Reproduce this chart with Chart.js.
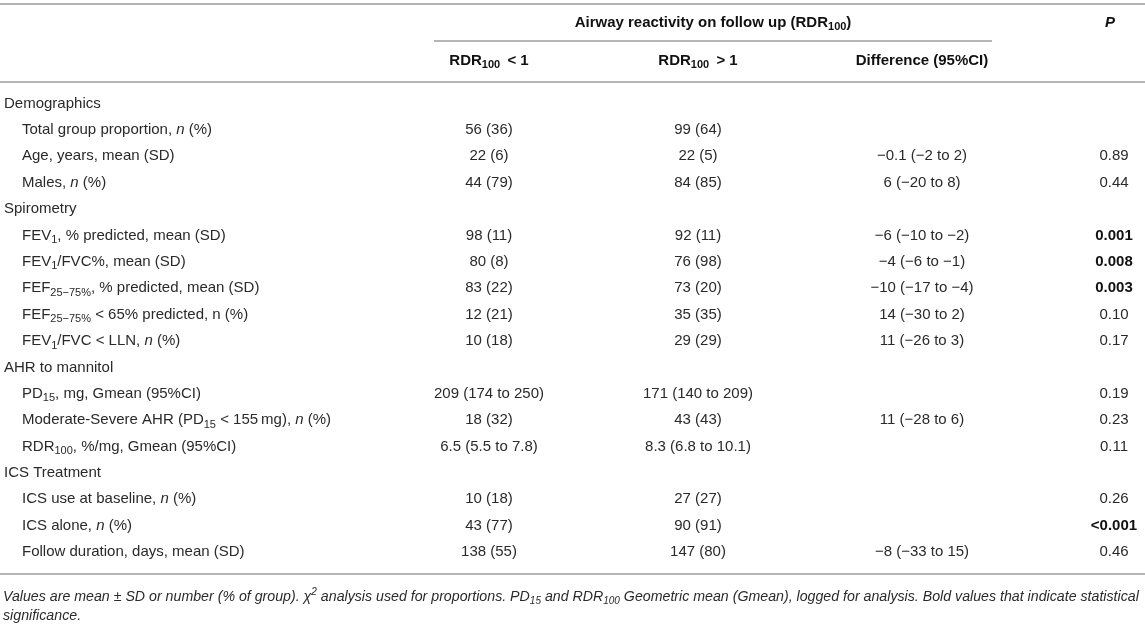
<!DOCTYPE html>
<html>
<head>
<meta charset="utf-8">
<script src="https://cdn.jsdelivr.net/npm/chart.js@4/dist/chart.umd.min.js"></script>
<style>
  html, body { margin: 0; padding: 0; background: #fff; }
  #wrap { width: 1145px; height: 626px; }
</style>
</head>
<body>
<div id="wrap"><canvas id="c" width="1145" height="626"></canvas></div>
<script>
// ---------- data ----------
const categories = [
  "Demographics",
  "Total group proportion, *n* (%)",
  "Age, years, mean (SD)",
  "Males, *n* (%)",
  "Spirometry",
  "FEV_{1}, % predicted, mean (SD)",
  "FEV_{1}/FVC%, mean (SD)",
  "FEF_{25\u221275%}, % predicted, mean (SD)",
  "FEF_{25\u221275%} < 65% predicted, n (%)",
  "FEV_{1}/FVC < LLN, *n* (%)",
  "AHR to mannitol",
  "PD_{15}, mg, Gmean (95%CI)",
  "Moderate-Severe AHR (PD_{15} < 155\u2009mg), *n* (%)",
  "RDR_{100}, %/mg, Gmean (95%CI)",
  "ICS Treatment",
  "ICS use at baseline, *n* (%)",
  "ICS alone, *n* (%)",
  "Follow duration, days, mean (SD)"
];
const sectionRows = [0, 4, 10, 14];
const groupLow = ["", "56 (36)", "22 (6)", "44 (79)", "", "98 (11)", "80 (8)", "83 (22)", "12 (21)", "10 (18)", "", "209 (174 to 250)", "18 (32)", "6.5 (5.5 to 7.8)", "", "10 (18)", "43 (77)", "138 (55)"];
const groupHigh = ["", "99 (64)", "22 (5)", "84 (85)", "", "92 (11)", "76 (98)", "73 (20)", "35 (35)", "29 (29)", "", "171 (140 to 209)", "43 (43)", "8.3 (6.8 to 10.1)", "", "27 (27)", "90 (91)", "147 (80)"];
const difference = ["", "", "\u22120.1 (\u22122 to 2)", "6 (\u221220 to 8)", "", "\u22126 (\u221210 to \u22122)", "\u22124 (\u22126 to \u22121)", "\u221210 (\u221217 to \u22124)", "14 (\u221230 to 2)", "11 (\u221226 to 3)", "", "", "11 (\u221228 to 6)", "", "", "", "", "\u22128 (\u221233 to 15)"];
const pValues = ["", "", "0.89", "0.44", "", "0.001", "0.008", "0.003", "0.10", "0.17", "", "0.19", "0.23", "0.11", "", "0.26", "<0.001", "0.46"];
const significantRows = [5, 6, 7, 16];
const spanHeader = "Airway reactivity on follow up (RDR_{100})";
const columnHeaders = ["RDR_{100}\u2009 < 1", "RDR_{100}\u2009 > 1", "Difference (95%CI)"];
const pHeader = "*P*";
const footnote = [
  "Values are mean \u00b1 SD or number (% of group). \u03c7^{2} analysis used for proportions. PD_{15} and RDR_{100} Geometric mean (Gmean), logged for analysis. Bold values that indicate statistical",
  "significance."
];

// ---------- layout (in scale units) ----------
const FONT = '"Liberation Sans", Arial, Helvetica, sans-serif';
const colX = { section: 4, item: 22, low: 489, high: 698, diff: 922, p: 1114 };
const spanLine = [434, 992];
const yHead1 = -3.06, yHead2 = -1.62, yTopLine = -3.78, ySpanLine = -2.37, yHeadLine = -0.82, yBottomLine = 17.84;
const yFoot = [18.72, 19.44];

// parse mini markup: _{sub} ^{sup} *italic*
function parseRich(str) {
  const runs = [];
  let i = 0, italic = false, buf = "";
  const push = (t, mode) => { if (t) runs.push({ t, mode, italic }); };
  while (i < str.length) {
    const ch = str[i];
    if ((ch === "_" || ch === "^") && str[i + 1] === "{") {
      push(buf, "n"); buf = "";
      const end = str.indexOf("}", i);
      push(str.slice(i + 2, end), ch === "_" ? "sub" : "sup");
      i = end + 1; continue;
    }
    if (ch === "*") { push(buf, "n"); buf = ""; italic = !italic; i++; continue; }
    buf += ch; i++;
  }
  push(buf, "n");
  return runs;
}
function fontFor(run, size, bold, italicAll) {
  const s = run.mode === "n" ? size : Math.round(size * 0.72);
  return (run.italic || italicAll ? "italic " : "") + (bold ? "bold " : "") + s + "px " + FONT;
}
function drawRich(ctx, str, x, y, opt) {
  const size = opt.size || 15, bold = !!opt.bold, italicAll = !!opt.italic;
  const runs = parseRich(str);
  let w = 0;
  runs.forEach(r => { ctx.font = fontFor(r, size, bold, italicAll); r.w = ctx.measureText(r.t).width; w += r.w; });
  let cx = x;
  if (opt.align === "center") cx = x - w / 2;
  else if (opt.align === "right") cx = x - w;
  ctx.fillStyle = opt.color || "#2a2a2a";
  ctx.textBaseline = "middle";
  ctx.textAlign = "left";
  runs.forEach(r => {
    ctx.font = fontFor(r, size, bold, italicAll);
    let dy = 0;
    if (r.mode === "sub") dy = size * 0.3;
    if (r.mode === "sup") dy = -size * 0.34;
    ctx.fillText(r.t, cx, y + dy);
    cx += r.w;
  });
}

const tablePlugin = {
  id: "tableText",
  afterDraw(chart) {
    const ctx = chart.ctx, xs = chart.scales.x, ys = chart.scales.y;
    const X = v => xs.getPixelForValue(v), Y = v => ys.getPixelForValue(v);
    ctx.save();
    // rules
    ctx.strokeStyle = "#b5b5b5";
    ctx.lineWidth = 2;
    const hline = (x0, x1, yv) => { ctx.beginPath(); ctx.moveTo(X(x0), Math.round(Y(yv))); ctx.lineTo(X(x1), Math.round(Y(yv))); ctx.stroke(); };
    hline(0, 1145, yTopLine);
    hline(spanLine[0], spanLine[1], ySpanLine);
    hline(0, 1145, yHeadLine);
    hline(0, 1145, yBottomLine);
    // headers
    drawRich(ctx, spanHeader, X((spanLine[0] + spanLine[1]) / 2), Y(yHead1), { bold: true, align: "center", color: "#111" });
    drawRich(ctx, pHeader, X(colX.p - 4), Y(yHead1), { bold: true, align: "center", color: "#111" });
    const hx = [colX.low, colX.high, colX.diff];
    columnHeaders.forEach((h, k) => drawRich(ctx, h, X(hx[k]), Y(yHead2), { bold: true, align: "center", color: "#111" }));
    // body
    categories.forEach((lab, i) => {
      const isSec = sectionRows.includes(i);
      const yy = Y(i);
      drawRich(ctx, lab, X(isSec ? colX.section : colX.item), yy, { align: "left" });
      if (groupLow[i]) drawRich(ctx, groupLow[i], X(colX.low), yy, { align: "center" });
      if (groupHigh[i]) drawRich(ctx, groupHigh[i], X(colX.high), yy, { align: "center" });
      if (difference[i]) drawRich(ctx, difference[i], X(colX.diff), yy, { align: "center" });
      if (pValues[i]) {
        const b = significantRows.includes(i);
        drawRich(ctx, pValues[i], X(colX.p), yy, { align: "center", bold: b, color: b ? "#111" : "#2a2a2a" });
      }
    });
    // footnote
    footnote.forEach((f, k) => drawRich(ctx, f, X(3), Y(yFoot[k]), { align: "left", italic: true, size: 14.2 }));
    ctx.restore();
  }
};

new Chart(document.getElementById("c"), {
  type: "bar",
  data: { labels: categories, datasets: [] },
  options: {
    responsive: false,
    animation: false,
    layout: { padding: { top: 103.6, bottom: 626 - 552, left: 0, right: 0 } },
    plugins: { legend: { display: false }, tooltip: { enabled: false } },
    scales: {
      x: { type: "linear", min: 0, max: 1145, offset: false, display: false },
      y: { type: "category", labels: categories, offset: false, display: false }
    }
  },
  plugins: [tablePlugin]
});
</script>
</body>
</html>
